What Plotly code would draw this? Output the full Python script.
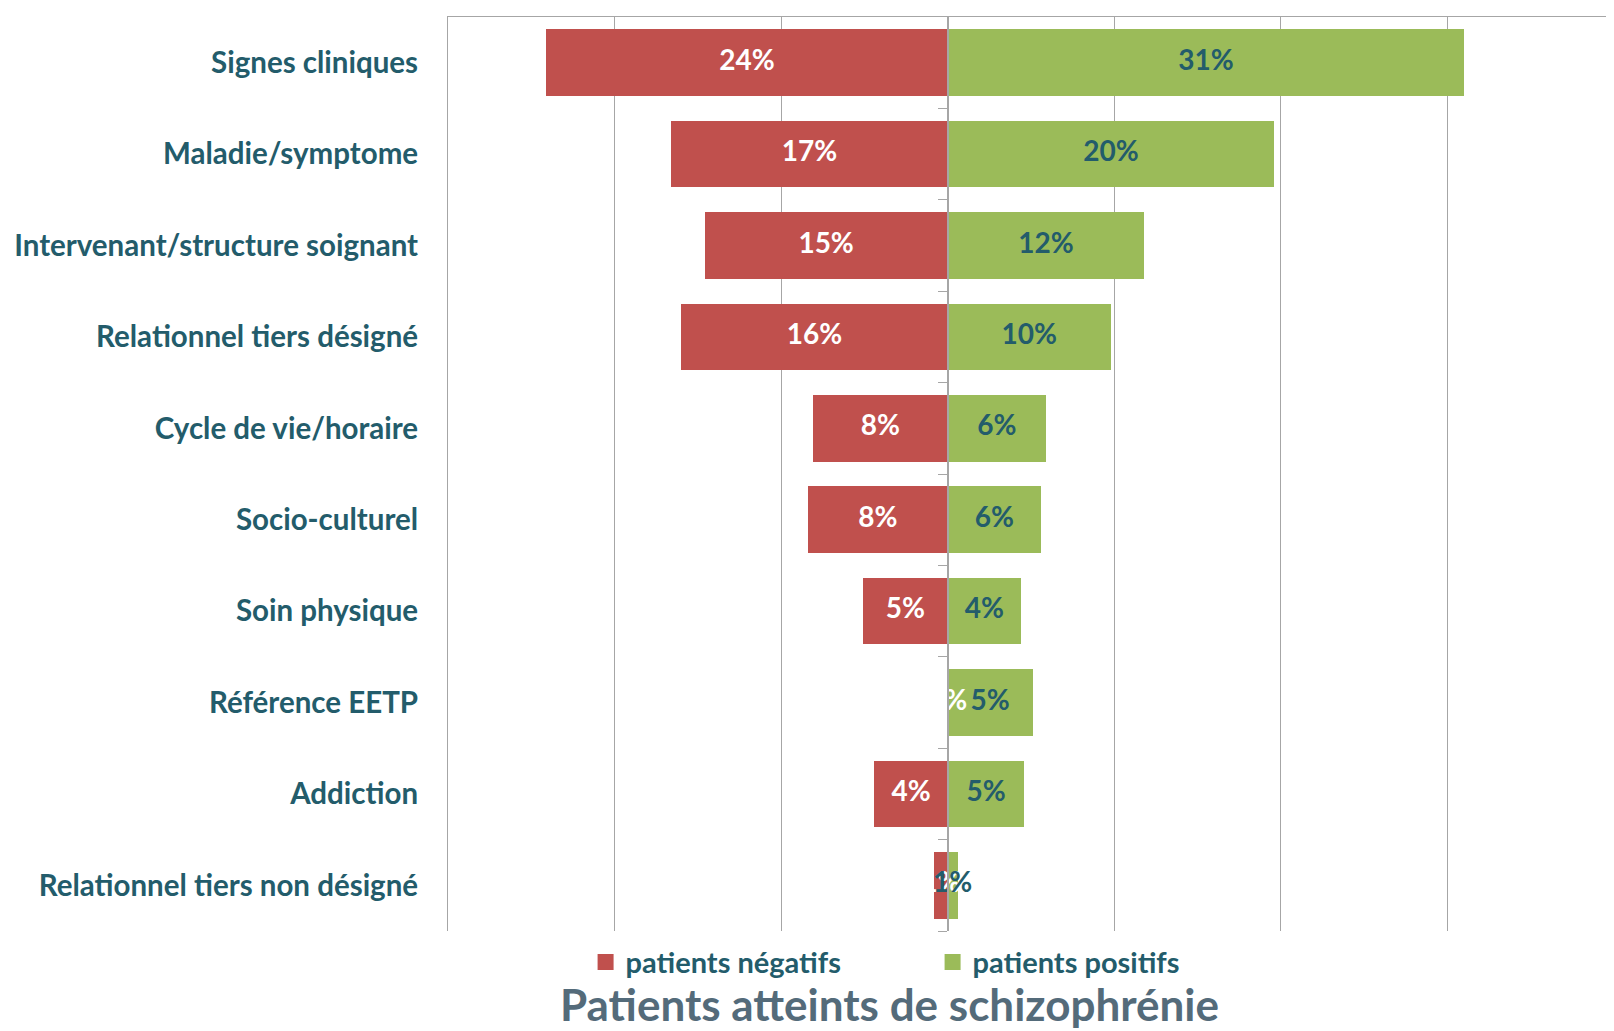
import plotly.graph_objects as go

categories = [
    "Signes cliniques",
    "Maladie/symptome",
    "Intervenant/structure soignant",
    "Relationnel tiers désigné",
    "Cycle de vie/horaire",
    "Socio-culturel",
    "Soin physique",
    "Référence EETP",
    "Addiction",
    "Relationnel tiers non désigné",
]
negatifs = [24.1, 16.6, 14.6, 16.0, 8.1, 8.4, 5.1, 0.0, 4.4, 0.8]
positifs = [31.0, 19.6, 11.8, 9.8, 5.9, 5.6, 4.4, 5.1, 4.6, 0.6]
series_names = ["patients négatifs", "patients positifs"]
x_ticks = [-30, -20, -10, 0, 10, 20, 30]

RED = "#C0504D"
GREEN = "#9BBB59"
TEAL = "#235C6B"
GRID = "#A6A6A6"
FONT = "Lato"

ypos = list(range(len(categories)))
neg_x = [-v for v in negatifs]

fig = go.Figure()
fig.add_trace(go.Bar(
    y=ypos, x=neg_x, orientation="h", name=series_names[0],
    marker=dict(color=RED, line=dict(width=0)), width=0.73, showlegend=False,
))
fig.add_trace(go.Bar(
    y=ypos, x=positifs, orientation="h", name=series_names[1],
    marker=dict(color=GREEN, line=dict(width=0)), width=0.73, showlegend=False,
))
# legend entries with larger square swatches
for nm, col in zip(series_names, [RED, GREEN]):
    fig.add_trace(go.Scatter(
        x=[None], y=[None], mode="markers", name=nm,
        marker=dict(symbol="square", size=16, color=col),
    ))
# data labels centred in the bars
fig.add_trace(go.Scatter(
    y=ypos, x=[v / 2 for v in neg_x], mode="text",
    text=[f"{v:.0f}%" for v in negatifs],
    textfont=dict(family=FONT, size=28, color="white", weight="bold"),
    showlegend=False, hoverinfo="skip", cliponaxis=False,
))
fig.add_trace(go.Scatter(
    y=ypos, x=[v / 2 for v in positifs], mode="text",
    text=[f"{v:.0f}%" for v in positifs],
    textfont=dict(family=FONT, size=28, color=TEAL, weight="bold"),
    showlegend=False, hoverinfo="skip", cliponaxis=False,
))
# invisible trace to carry the central vertical axis
fig.add_trace(go.Scatter(
    y=ypos, x=[0] * len(ypos), yaxis="y2", mode="markers",
    marker=dict(opacity=0), showlegend=False, hoverinfo="skip",
))

yr = [len(categories) - 0.5, -0.5]
fig.update_layout(
    width=1606, height=1023,
    margin=dict(l=440, r=0, t=9, b=100),
    paper_bgcolor="white", plot_bgcolor="white",
    barmode="relative", bargap=0,
    showlegend=True,
    legend=dict(
        orientation="h", x=0.118, xanchor="left", y=-0.034, yanchor="middle",
        font=dict(family=FONT, size=29, color=TEAL, weight="bold"),
        entrywidth=302, entrywidthmode="pixels",
        bgcolor="rgba(0,0,0,0)",
    ),
    xaxis=dict(
        range=[-30, 40], side="top", tickvals=x_ticks, showticklabels=False,
        showgrid=True, gridcolor=GRID, gridwidth=1,
        zeroline=False, showline=True, linecolor=GRID, linewidth=1,
        ticks="", fixedrange=True,
    ),
    yaxis=dict(
        range=yr, tickvals=ypos, ticktext=categories,
        tickfont=dict(family=FONT, size=29.5, color=TEAL, weight="bold"),
        showgrid=False, zeroline=False, showline=True, linecolor=GRID,
        ticks="", ticklabelstandoff=23,
    ),
    yaxis2=dict(
        range=yr, overlaying="y", anchor="free", position=3 / 7,
        showline=True, linecolor=GRID, linewidth=1.5,
        ticks="outside", ticklen=9, tickcolor=GRID,
        tickvals=[i + 0.5 for i in ypos], showticklabels=False,
        showgrid=False, zeroline=False,
    ),
    annotations=[dict(
        text="Patients atteints de schizophrénie", xref="paper", yref="paper",
        x=0.379, y=-0.0799, xanchor="center", yanchor="middle", showarrow=False,
        font=dict(family=FONT, size=44, color="#546B7A", weight="bold"),
    )],
)

fig.write_html("out.html")
